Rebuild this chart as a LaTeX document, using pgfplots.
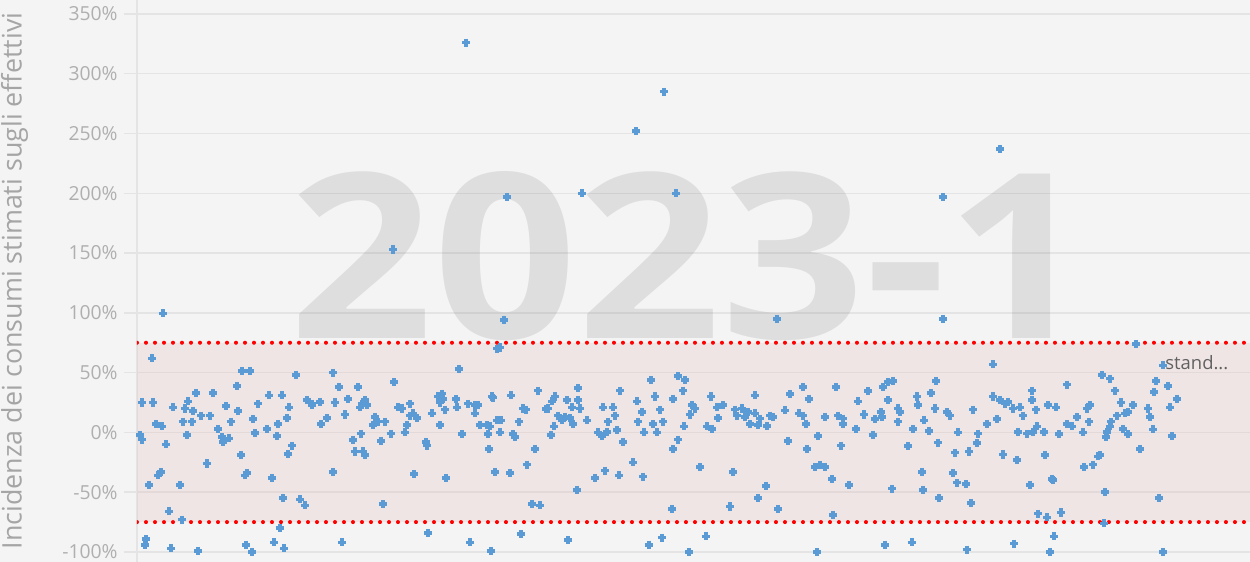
\documentclass[border=0pt]{standalone}
\usepackage{fontspec}
\setmainfont{Open Sans}
\usepackage{pgfplots}
\pgfplotsset{compat=1.18}
\usetikzlibrary{backgrounds}

\definecolor{bg}{RGB}{244,244,244}
\definecolor{gridc}{RGB}{228,228,228}
\definecolor{tickc}{RGB}{175,175,175}
\definecolor{labc}{RGB}{165,165,165}
\definecolor{ptblue}{RGB}{91,155,213}
\definecolor{bandc}{RGB}{230,188,188}

\begin{document}
\begin{tikzpicture}
\begin{axis}[
  scale only axis,
  width=22.26cm, height=11.24cm,
  xmin=137, xmax=1250,
  ymin=-108.4, ymax=361.7,
  xtick=\empty,
  ytick={-100,-50,...,350},
  yticklabel={\pgfmathprintnumber{\tick}\%},
  /pgf/number format/assume math mode=true,
  yticklabel style={font=\fontsize{11}{11}\selectfont, text=tickc, inner sep=0pt, anchor=east, xshift=-0.12cm},
  tick align=outside,
  major tick length=0.26cm,
  ytick style={gridc, line width=0.8pt},
  ymajorgrids,
  grid style={gridc, line width=0.8pt},
  axis x line=none,
  axis y line*=left,
  y axis line style={gridc, line width=0.8pt, -},
  clip=true,
]
% band between -75% and 75%
\addplot[draw=none, fill=bandc, fill opacity=0.25] coordinates {(137,-75) (1250,-75) (1250,75) (137,75)} -- cycle;

\node[text=black, text opacity=0.085, inner sep=0pt] at (axis cs:690,147.5) {\resizebox{16.0cm}{3.34cm}{\bfseries 2023-1}};

\addplot[red, line width=2.3pt, line cap=round, dash pattern=on 0pt off 0.18cm] coordinates {(137,75) (1250,75)};
\addplot[red, line width=2.3pt, line cap=round, dash pattern=on 0pt off 0.18cm] coordinates {(137,-75) (1250,-75)};

\addplot[only marks, mark=+, mark size=2.3pt, ptblue, mark options={line width=2pt}] coordinates {
(163,99.5) (152,62) (242,51.5) (250,51.5) (296,48) (237,39) (196,33) (213,33) (142,25) (153,25)
(173,21) (188,26) (185,20) (193,18) (226,22) (238,18) (258,24) (269,31) (282,31) (289,21)
(307,27) (312,23) (183,9) (192,9) (201,14) (210,14) (231,9) (253,11) (287,12) (278,7)
(156,7) (162,5) (218,3) (187,-2) (140,-2) (142,-6) (255,-0.5) (267,3) (277,-3) (222,-4)
(223,-8) (229,-5) (166,-10) (292,-11) (288,-18) (241,-19) (207,-26) (161,-33) (158,-36) (149,-44)
(180,-44) (247,-34) (245,-36) (272,-38) (283,-55) (300,-56) (305,-61) (169,-66) (182,-73) (280,-80)
(146,-89) (145,-94) (171,-97) (198,-99) (246,-94) (252,-100) (274,-92) (284,-97)
(497,70) (500,71) (333,50) (459,53) (394,42) (339,38) (358,38) (312,24) (320,25.5) (335,25)
(348,28) (362,24) (365,27) (367,23) (360,21) (345,15) (327,12) (321,7) (398,21) (402,20)
(410,24) (410,14) (417,12) (413,16) (407,6) (405,0) (375,13) (378,9) (373,6) (385,9)
(391,-1) (381,-7) (353,-6.5) (361,-1) (355,-16) (363,-16) (365,-19) (426,-8) (427,-11) (432,16)
(438,30) (442,32.5) (443,28) (440,25) (445,19) (440,6) (456,28) (457,21) (462,-1.5) (468,24)
(475,23) (478,23) (475,16) (480,6) (487,6) (488,-1.5) (492,30) (497,10) (489,-14) (495,-33)
(333,-33) (414,-35) (446,-38) (383,-60) (428,-84) (342,-92) (470,-92) (491,-99)
(504,94) (651,44) (678,47) (538,35) (578,37) (620,35) (493,29) (511,31) (655,30) (673,28)
(555,30) (552,26) (548,20) (567,27) (578,27) (572,21) (580,20) (523,20) (526,19) (546,19.5)
(558,14) (565,13) (570,12) (573,7) (587,10) (562,10) (603,21) (613,21) (615,14) (608,9)
(637,26) (642,17) (638,9) (660,19) (663,9) (653,7) (501,10) (519,9) (490,5) (500,0)
(513,-1.5) (515,-4) (554,5) (551,-2) (598,0) (602,-3) (607,0.5) (617,2) (644,0) (657,0)
(623,-8) (673,-14) (678,-6) (535,-14) (527,-27) (510,-34) (633,-25) (595,-38) (605,-32) (619,-36)
(643,-37) (577,-48) (532,-60) (540,-61) (672,-64) (521,-85) (568,-90) (662,-88) (649,-94)
(685,44) (683,35) (711,30) (755,31) (790,32) (803,38) (809,28) (836,38) (858,26) (692,23)
(695,20) (690,15) (717,21) (723,23) (718,12) (735,19) (742,20) (737,14) (748,17) (755,16)
(745,13) (760,11.5) (770,14) (773,13) (750,7) (758,6) (767,5.5) (785,18.5) (799,16) (803,14)
(806,7) (825,13) (838,14) (843,11.5) (843,7) (856,3) (684,5) (707,5) (712,3) (788,-7)
(818,-3) (807,-14) (841,-11) (700,-29) (733,-33) (815,-29) (820,-27) (825,-29) (832,-39) (849,-44)
(766,-45) (758,-55) (730,-62) (778,-64) (833,-69) (706,-87) (689,-100) (817,-100) (777,95)
(943,95) (993,57) (936,43) (893,43) (888,42) (883,38) (868,34.5) (1032,35) (917,30) (918,23)
(931,33) (888,27) (898,20) (900,17) (935,20) (947,17) (950,14) (973,19) (993,30) (1000,27)
(1008,25.5) (1005,24) (1013,20) (1020,21) (1023,14) (1032,27) (1036,19) (864,15) (875,11) (882,13)
(881,17) (898,9) (873,-2) (924,10) (913,3) (929,1) (987,7) (997,11) (958,0) (978,-1)
(977,-9) (938,-8.5) (908,-11.5) (1018,0.5) (1027,-1) (1033,0.5) (1037,5) (955,-17) (969,-16) (1003,-18.5)
(1017,-23) (922,-33) (953,-34) (892,-47) (923,-48) (957,-42) (966,-43) (939,-55) (971,-59) (1038,-68)
(885,-94) (912,-92) (967,-98) (1014,-93)
(1136,74) (1163,56) (1102,48) (1110,45) (1156,43) (1154,34) (1168,39) (1177,28) (1067,40) (1115,35)
(1121,25) (1048,23) (1056,21) (1133,23) (1128,17) (1125,16) (1148,20) (1150,13) (1170,21) (1090,23)
(1087,20) (1077,13) (1089,9) (1067,7) (1072,5) (1117,14) (1111,9) (1110,5) (1107,0.5) (1106,-4)
(1123,3) (1128,-1.5) (1153,2.5) (1172,-3) (1044,0.5) (1059,-1.5) (1083,0) (1140,-14) (1045,-19) (1100,-19)
(1098,-20) (1093,-27) (1084,-29) (1052,-39) (1053,-40) (1030,-44) (1105,-50) (1159,-55) (1047,-71) (1061,-67)
(1104,-76) (1054,-87) (1050,-100) (1163,-100)
(466,326) (393,153) (507,197) (582,200) (636,252) (664,285) (676,200) (943,197) (1000,237)
};

\node[anchor=west, text=black!62, font=\fontsize{10.5}{10.5}\selectfont, inner sep=0pt] at (axis cs:1165,58) {stand...};

\coordinate (sw) at (rel axis cs:0,0);
\coordinate (ne) at (rel axis cs:1,1);
\coordinate (ml) at (rel axis cs:0,0.5);
\end{axis}
\node[rotate=90, text=labc, font=\fontsize{15.3}{15.3}\selectfont, inner sep=0pt] at ([xshift=-2.45cm]ml) {Incidenza dei consumi stimati sugli effettivi};
\begin{pgfonlayer}{background}
\fill[bg] ([xshift=-2.74cm]sw) rectangle (ne);
\end{pgfonlayer}
\pgfresetboundingbox
\path ([xshift=-2.74cm]sw) rectangle (ne);
\end{tikzpicture}
\end{document}
